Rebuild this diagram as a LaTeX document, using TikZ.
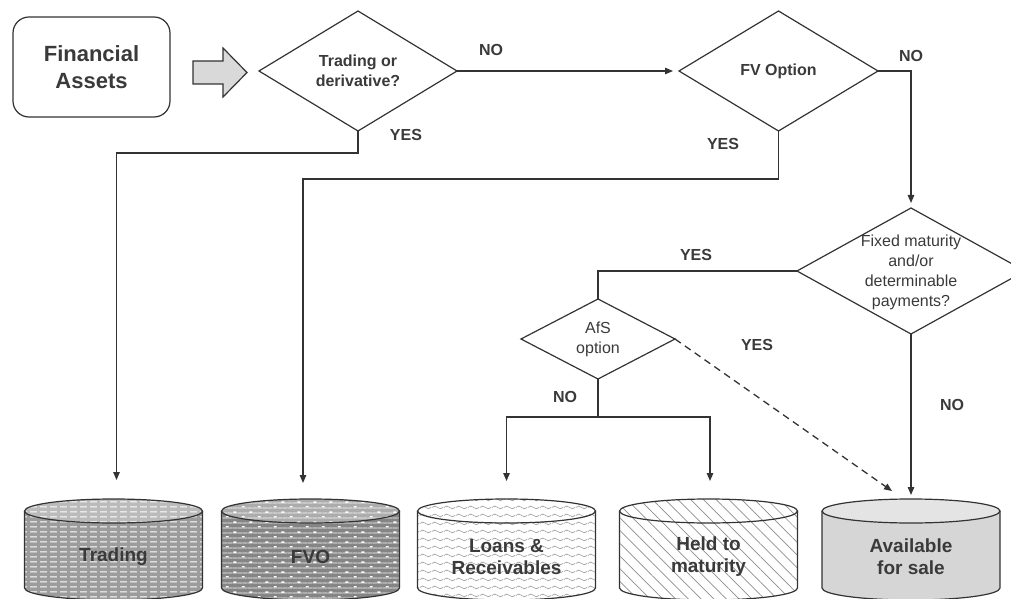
\documentclass[tikz,border=0pt]{standalone}
\usepackage{fontspec}
\setmainfont{Liberation Sans}
\usetikzlibrary{shapes.geometric,arrows.meta,patterns.meta}

\definecolor{ink}{HTML}{333333}
\definecolor{txt}{HTML}{3A3A3A}
\definecolor{arrowgray}{HTML}{D9D9D9}
\definecolor{trdgray}{HTML}{9C9C9C}
\definecolor{fvogray}{HTML}{858585}
\definecolor{fvoline}{HTML}{AEAEAE}
\definecolor{wavegray}{HTML}{A0A0A0}
\definecolor{hatchgray}{HTML}{8E8E8E}
\definecolor{afsgray}{HTML}{D6D6D6}
\definecolor{afstop}{HTML}{E4E4E4}

% white dashed stripes (Trading)
\pgfdeclarepattern{
  name=dashstripes,
  bottom left={\pgfpoint{0pt}{0pt}},
  top right={\pgfpoint{10pt}{5pt}},
  tile size={\pgfpoint{10pt}{5pt}},
  code={
    \pgfsetlinewidth{1.4pt}
    \pgfpathmoveto{\pgfpoint{0pt}{2.5pt}}
    \pgfpathlineto{\pgfpoint{7.5pt}{2.5pt}}
    \pgfusepath{stroke}
  }
}
% white dots in rows (FVO)
\pgfdeclarepattern{
  name=dotrows,
  bottom left={\pgfpoint{0pt}{0pt}},
  top right={\pgfpoint{16pt}{10pt}},
  tile size={\pgfpoint{16pt}{10pt}},
  code={
    \pgfsetlinewidth{1.4pt}
    \pgfpathmoveto{\pgfpoint{2pt}{2.5pt}}
    \pgfpathlineto{\pgfpoint{5pt}{2.5pt}}
    \pgfpathmoveto{\pgfpoint{10pt}{7.5pt}}
    \pgfpathlineto{\pgfpoint{13pt}{7.5pt}}
    \pgfusepath{stroke}
  }
}
% wavy lines (Loans)
\pgfdeclarepattern{
  name=waves,
  bottom left={\pgfpoint{0pt}{0pt}},
  top right={\pgfpoint{12pt}{8pt}},
  tile size={\pgfpoint{12pt}{8pt}},
  code={
    \pgfsetlinewidth{0.7pt}
    \pgfpathmoveto{\pgfpoint{0pt}{4pt}}
    \pgfpathcurveto{\pgfpoint{3pt}{6pt}}{\pgfpoint{3pt}{6pt}}{\pgfpoint{6pt}{4pt}}
    \pgfpathcurveto{\pgfpoint{9pt}{2pt}}{\pgfpoint{9pt}{2pt}}{\pgfpoint{12pt}{4pt}}
    \pgfusepath{stroke}
  }
}

\tikzset{
  boldtext/.style={font=\bfseries\fontsize{16pt}{20pt}\selectfont, text=txt},
  regtext/.style={font=\fontsize{16pt}{19.8pt}\selectfont, text=txt},
  lbl/.style={boldtext, inner sep=0pt},
  startbox/.style={draw=ink, line width=1.2pt, rounded corners=16pt, minimum width=157pt,
    minimum height=100pt, align=center, text=txt, font=\bfseries\fontsize{22pt}{27.5pt}\selectfont},
  blockarrow/.style={draw=ink, line width=1.2pt, fill=arrowgray},
  decision/.style={diamond, draw=ink, line width=1.2pt, inner sep=0pt, outer sep=0pt,
    aspect=1.65, align=center},
  conn/.style={draw=ink, line width=1.3pt},
  arr/.style={conn, -{Triangle[length=8pt,width=6.5pt]}},
  drumline/.style={draw=ink, line width=1.2pt},
  drumlabel/.style={align=center, text=txt, inner sep=0pt, font=\bfseries\fontsize{19pt}{22pt}\selectfont},
  trdbody/.style={preaction={fill=trdgray}, pattern=dashstripes, pattern color=white},
  fvobody/.style={preaction={fill=fvogray}, pattern={Lines[distance=5pt,line width=1.1pt]},
    pattern color=fvoline, postaction={pattern=dotrows, pattern color=white}},
  larbody/.style={preaction={fill=white}, pattern=waves, pattern color=wavegray},
  htmbody/.style={preaction={fill=white}, pattern={Lines[angle=-45,distance=9pt,line width=0.7pt]},
    pattern color=hatchgray},
  afsbody/.style={fill=afsgray},
  shadetop/.style={fill=white, fill opacity=0.32},
  afstoplid/.style={fill=afstop},
  nolid/.style={}
}

% drum: name, x centre, body style, lid style, label
\newcommand{\drum}[5]{%
  \path[#3] (#2-89,87) -- (#2-89,10) arc[start angle=180,end angle=360,x radius=89pt,y radius=12pt]
    -- (#2+89,87) arc[start angle=0,end angle=180,x radius=89pt,y radius=12pt] -- cycle;
  \path[#4] (#2,87) ellipse[x radius=89pt,y radius=12pt];
  \draw[drumline] (#2-89,87) -- (#2-89,10) arc[start angle=180,end angle=360,x radius=89pt,y radius=12pt]
    -- (#2+89,87);
  \draw[drumline] (#2,87) ellipse[x radius=89pt,y radius=12pt];
  \coordinate (#1-top) at (#2,99);
  \node[drumlabel] (#1) at (#2,41) {#5};
}

\begin{document}
\begin{tikzpicture}[x=1pt,y=1pt]
  \useasboundingbox (0,0) rectangle (1011,598);
  \clip (0,0) rectangle (1011,598);

  \node[startbox] (FA) at (91.5,531) {Financial\\Assets};
  \draw[blockarrow] (193,537) -- (223,537) -- (223,550) -- (247,525.5) -- (223,501)
    -- (223,514) -- (193,514) -- cycle;

  \node[decision, boldtext, minimum width=198pt, minimum height=120pt] (D1) at (358,527) {Trading or\\derivative?};
  \node[decision, boldtext, minimum width=199pt, minimum height=120pt] (D2) at (778.5,527) {FV Option};
  \node[decision, minimum width=228pt, minimum height=126pt] (D3) at (911,327) {};
  \node[regtext, align=center, inner sep=0pt] (D3t) at (911,325.5) {Fixed maturity\\and/or\\determinable\\payments?};
  \node[decision, regtext, minimum width=154pt, minimum height=80pt] (D4) at (598,259) {AfS\\option};

  \drum{Trd}{113.5}{trdbody}{shadetop}{Trading}
  \drum{Fvo}{310.5}{fvobody}{shadetop}{FVO}
  \drum{Lar}{506.5}{larbody}{nolid}{Loans \&\\Receivables}
  \drum{Htm}{708.5}{htmbody}{nolid}{Held to\\maturity}
  \drum{Afs}{911}{afsbody}{afstoplid}{Available\\for sale}

  \draw[arr, shorten >=6pt] (D1.east) -- (D2.west);
  \draw[arr] (D1.south) -- ++(0,-22) -| ([xshift=3pt,yshift=19pt]Trd-top);
  \draw[arr] (D2.south) -- ++(0,-48) -| ([xshift=-7.5pt,yshift=16pt]Fvo-top);
  \draw[arr, shorten >=5pt] (D2.east) -| (D3.north);
  \draw[conn] (D3.west) -| (D4.north);
  \draw[conn] (D4.south) -- ++(0,-38) coordinate (fork);
  \draw[arr] (fork) -| ([yshift=18pt]Lar-top);
  \draw[arr] (fork) -| ([xshift=1.5pt,yshift=18pt]Htm-top);
  \draw[arr, dash pattern=on 7pt off 5pt] (D4.east) -- ([xshift=-19pt,yshift=8pt]Afs-top);
  \draw[arr] (D3.south) -- ([yshift=4pt]Afs-top);

  \node[lbl] (no1) at (491,548) {NO};
  \node[lbl] (yes1) at (406,463) {YES};
  \node[lbl] (no2) at (911,542) {NO};
  \node[lbl] (yes2) at (723,454) {YES};
  \node[lbl] (yes3) at (696,343) {YES};
  \node[lbl] (yes4) at (757,253) {YES};
  \node[lbl] (no3) at (565,201) {NO};
  \node[lbl] (no4) at (952,193) {NO};
\end{tikzpicture}
\end{document}
